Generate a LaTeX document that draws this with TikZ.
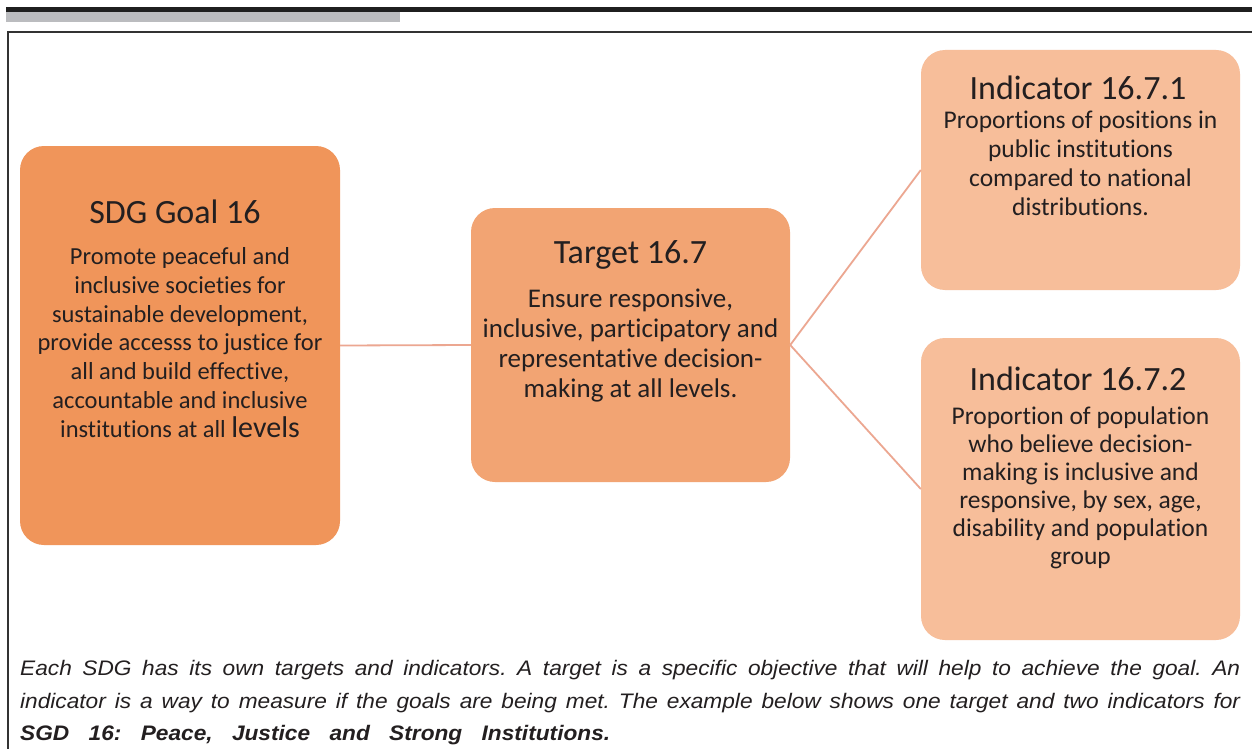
\documentclass[tikz,border=0pt]{standalone}
\usepackage{fontspec}
\setmainfont[Ligatures=NoCommon]{Carlito}
\newfontfamily\capfont[FakeStretch=1.08]{Liberation Sans}
\definecolor{goalc}{HTML}{F0955A}
\definecolor{targc}{HTML}{F2A473}
\definecolor{indc}{HTML}{F7BE9A}
\definecolor{linkc}{HTML}{ECA791}
\definecolor{barg}{HTML}{BBBCBF}
\definecolor{txt}{HTML}{231F20}
\tikzset{
  box/.style={draw=none, rounded corners=24pt, inner sep=0pt},
  ttl/.style={anchor=base, text=txt, font=\fontsize{34}{40}\selectfont},
  link/.style={draw=linkc, line width=1.8pt},
  captxt/.style={anchor=base west, inner sep=0pt, text=txt}
}
\begin{document}
\frenchspacing
\begin{tikzpicture}[x=1pt,y=-1pt]
\useasboundingbox (0,0) rectangle (1252,749);
\fill[white] (0,0) rectangle (1252,749);
% header bars and frame
\fill[black!88] (6,7) rectangle (1252,12);
\fill[barg] (6,12) rectangle (400,22);
\draw[line width=2pt, black!80] (8,749) -- (8,32) -- (1252,32);
% boxes
\node[box, fill=goalc, minimum width=320pt, minimum height=399pt] (goal) at (180,345.5) {};
\node[box, fill=targc, minimum width=319pt, minimum height=274pt] (targ) at (630.5,345) {};
\node[box, fill=indc, minimum width=319pt, minimum height=240pt] (ind1) at (1080.5,170) {};
\node[box, fill=indc, minimum width=319pt, minimum height=302pt] (ind2) at (1080.5,489) {};
% connectors
\draw[link] (goal.east) -- (targ.west);
\draw[link] (targ.east) -- (ind1.west);
\draw[link] (targ.east) -- (ind2.west);
% texts (base anchor = last line's baseline)
\node[ttl] (goalt) at (175,223) {SDG Goal 16};
\node[anchor=base, align=center, text=txt, font=\fontsize{24.5}{28.7}\selectfont] (goalb) at (180,437)
 {Promote peaceful and\\ inclusive societies for\\ sustainable development,\\ provide accesss to justice for\\ all and build effective,\\ accountable and inclusive\\ institutions at all {\fontsize{30}{28.7}\selectfont levels}};
\node[ttl] (targt) at (630.5,263) {Target 16.7};
\node[anchor=base, align=center, text=txt, font=\fontsize{27}{30}\selectfont] (targb) at (630.5,397)
 {Ensure responsive,\\ inclusive, participatory and\\ representative decision-\\ making at all levels.};
\node[ttl] (ind1t) at (1078,100) {Indicator 16.7.1};
\node[anchor=base, align=center, text=txt, font=\fontsize{25.5}{28.7}\selectfont] (ind1b) at (1080.5,215)
 {Proportions of positions in\\ public institutions\\ compared to national\\ distributions.};
\node[ttl] (ind2t) at (1078,390) {Indicator 16.7.2};
\node[anchor=base, align=center, text=txt, font=\fontsize{25.5}{28}\selectfont] (ind2b) at (1080.5,564)
 {Proportion of population\\ who believe decision-\\ making is inclusive and\\ responsive, by sex, age,\\ disability and population\\ group};
% caption
\node[captxt] (cap1) at (20,675) {\capfont\itshape\fontsize{21}{34}\selectfont\makebox[1220pt][s]{Each SDG has its own targets and indicators. A target is a specific objective that will help to achieve the goal. An}};
\node[captxt] (cap2) at (20,708) {\capfont\itshape\fontsize{21}{34}\selectfont\makebox[1220pt][s]{indicator is a way to measure if the goals are being met. The example below shows one target and two indicators for}};
\node[captxt] (cap3) at (20,740) {\capfont\bfseries\itshape\fontsize{21}{34}\selectfont\makebox[590pt][s]{SGD 16: Peace, Justice and Strong Institutions.}};
\end{tikzpicture}
\end{document}
